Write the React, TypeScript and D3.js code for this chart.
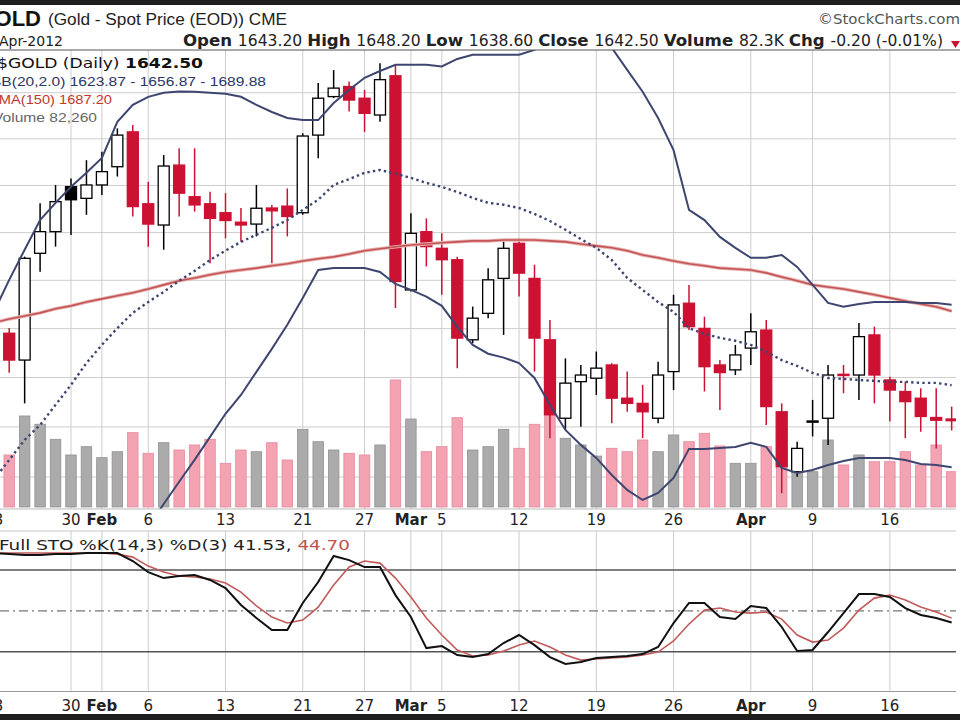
import React from 'react';
import * as d3 from 'd3';

// trading days shown (Jan 23 is just off the left edge)
const dates = [
  '2012-01-23', '2012-01-24', '2012-01-25', '2012-01-26', '2012-01-27', '2012-01-30', '2012-01-31',
  '2012-02-01', '2012-02-02', '2012-02-03', '2012-02-06', '2012-02-07', '2012-02-08', '2012-02-09',
  '2012-02-10', '2012-02-13', '2012-02-14', '2012-02-15', '2012-02-16', '2012-02-17', '2012-02-21',
  '2012-02-22', '2012-02-23', '2012-02-24', '2012-02-27', '2012-02-28', '2012-02-29', '2012-03-01',
  '2012-03-02', '2012-03-05', '2012-03-06', '2012-03-07', '2012-03-08', '2012-03-09', '2012-03-12',
  '2012-03-13', '2012-03-14', '2012-03-15', '2012-03-16', '2012-03-19', '2012-03-20', '2012-03-21',
  '2012-03-22', '2012-03-23', '2012-03-26', '2012-03-27', '2012-03-28', '2012-03-29', '2012-03-30',
  '2012-04-02', '2012-04-03', '2012-04-04', '2012-04-05', '2012-04-09', '2012-04-10', '2012-04-11',
  '2012-04-12', '2012-04-13', '2012-04-16', '2012-04-17', '2012-04-18', '2012-04-19', '2012-04-20',
];
// candles start on Jan 24
const candleDates = dates.slice(1);
const prevCloseSeed = 1672.0;

const candleOpen = [
  1678.1, 1667.1, 1711.3, 1720.4, 1739.5, 1734.5, 1740.2, 1748.0, 1763.0, 1732.2,
  1723.2, 1748.7, 1735.2, 1732.2, 1728.4, 1724.4, 1723.6, 1730.4, 1731.2, 1728.4,
  1761.6, 1778.3, 1782.7, 1777.6, 1770.3, 1787.4, 1696.0, 1720.4, 1713.4, 1708.6,
  1675.4, 1686.3, 1700.8, 1715.5, 1700.8, 1675.4, 1643.5, 1658.3, 1659.7, 1665.1,
  1651.6, 1649.5, 1643.5, 1662.4, 1690.5, 1680.1, 1665.1, 1663.1, 1672.0, 1679.4,
  1646.1, 1622.1, 1641.9, 1643.5, 1661.3, 1661.0, 1677.4, 1659.0, 1654.3, 1651.6,
  1643.8, 1643.2,
];
const candleHigh = [
  1680.3, 1709.9, 1732.4, 1740.2, 1743.0, 1750.8, 1754.4, 1764.5, 1766.0, 1741.6,
  1753.0, 1755.9, 1755.9, 1737.3, 1736.7, 1730.4, 1740.2, 1731.7, 1738.7, 1762.4,
  1784.2, 1789.9, 1784.9, 1781.2, 1792.9, 1792.2, 1728.2, 1726.0, 1719.7, 1709.9,
  1689.1, 1705.0, 1716.2, 1717.6, 1706.5, 1683.6, 1667.8, 1665.1, 1670.6, 1665.8,
  1662.4, 1657.0, 1666.4, 1694.0, 1698.1, 1684.9, 1667.1, 1673.3, 1686.3, 1683.6,
  1649.5, 1634.1, 1650.9, 1665.1, 1665.1, 1682.3, 1680.8, 1660.3, 1658.3, 1655.6,
  1655.6, 1648.2,
];
const candleLow = [
  1661.9, 1649.5, 1703.6, 1714.1, 1719.0, 1727.5, 1735.9, 1743.8, 1726.8, 1714.1,
  1712.8, 1726.8, 1728.9, 1707.1, 1717.6, 1716.1, 1718.4, 1707.1, 1718.4, 1727.5,
  1751.6, 1777.6, 1771.8, 1763.0, 1767.4, 1688.5, 1695.3, 1705.8, 1694.0, 1663.8,
  1674.0, 1684.3, 1677.4, 1693.3, 1662.4, 1635.5, 1638.8, 1640.1, 1652.9, 1641.5,
  1646.1, 1635.5, 1641.5, 1654.9, 1679.4, 1654.3, 1646.8, 1661.0, 1665.1, 1640.8,
  1613.6, 1620.1, 1636.2, 1632.8, 1653.6, 1650.9, 1649.5, 1642.2, 1635.5, 1638.1,
  1631.4, 1638.6,
];
const candleClose = [
  1667.1, 1709.2, 1720.4, 1733.1, 1733.9, 1740.2, 1745.9, 1761.6, 1731.0, 1723.6,
  1748.3, 1736.7, 1731.7, 1726.0, 1725.1, 1723.2, 1730.3, 1729.2, 1726.8, 1761.2,
  1777.6, 1782.0, 1776.8, 1771.0, 1785.7, 1699.5, 1719.7, 1714.1, 1708.6, 1676.1,
  1684.3, 1700.2, 1713.4, 1703.0, 1676.1, 1644.9, 1657.7, 1661.0, 1663.8, 1651.6,
  1649.5, 1646.1, 1661.0, 1689.8, 1680.8, 1664.4, 1662.0, 1669.2, 1678.7, 1648.2,
  1624.1, 1631.4, 1642.4, 1661.0, 1660.8, 1676.7, 1661.0, 1654.9, 1650.2, 1644.2,
  1642.7, 1642.5,
];
const volume = [
  121200, 212000, 192700, 157700, 121200, 140500, 114900, 128800, 173100, 125100,
  149800, 132800, 144500, 157700, 101800, 132800, 128800, 149800, 109500, 181000,
  152100, 132800, 125100, 121200, 144500, 295900, 205000, 128800, 140500, 208100,
  132800, 140500, 181000, 136800, 192700, 214400, 160100, 144500, 118800, 136800,
  128800, 156100, 128800, 167800, 152100, 171700, 142100, 101800, 101800, 140500,
  137500, 105500, 82200, 156100, 97900, 121200, 105500, 105500, 128800, 97900,
  144500, 82260,
];

// overlays, one value per entry of dates
const bbUpper = [
  1686.8, 1700.2, 1712.8, 1725.3, 1732.6, 1739.4, 1745.4, 1751.8, 1767.3, 1774.7,
  1778.2, 1780.0, 1780.5, 1780.4, 1780.0, 1779.5, 1778.2, 1774.7, 1771.6, 1769.0,
  1768.1, 1768.1, 1775.5, 1781.2, 1786.5, 1789.5, 1792.2, 1792.2, 1792.2, 1791.5,
  1794.8, 1796.6, 1796.6, 1796.6, 1796.6, 1798.8, 1803.1, 1806.7, 1807.6, 1805.4,
  1799.7, 1790.0, 1780.4, 1769.0, 1755.1, 1729.6, 1725.3, 1718.2, 1713.6, 1709.4,
  1709.4, 1710.6, 1705.6, 1698.1, 1690.6, 1689.0, 1690.2, 1691.0, 1691.0, 1691.0,
  1690.6, 1690.6, 1689.88,
];
const bbMiddle = [
  1618.9, 1626.8, 1634.8, 1640.8, 1648.9, 1657.0, 1665.9, 1673.3, 1680.2, 1686.5,
  1691.0, 1695.2, 1699.8, 1703.9, 1708.5, 1712.4, 1716.1, 1719.1, 1722.0, 1725.3,
  1729.6, 1733.9, 1740.2, 1742.7, 1745.4, 1746.6, 1745.0, 1743.2, 1741.1, 1739.4,
  1737.2, 1734.7, 1732.6, 1731.8, 1730.4, 1727.9, 1724.9, 1721.2, 1717.3, 1713.6,
  1708.5, 1701.0, 1696.0, 1691.0, 1686.9, 1680.2, 1677.8, 1676.2, 1675.0, 1673.3,
  1670.5, 1667.1, 1664.7, 1661.9, 1659.8, 1659.4, 1659.0, 1658.6, 1658.2, 1658.2,
  1657.8, 1657.8, 1656.87,
];
const bbLower = [
  1556.5, 1558.5, 1560.4, 1562.3, 1566.2, 1572.0, 1575.8, 1581.6, 1585.5, 1592.1,
  1600.4, 1609.3, 1618.1, 1626.8, 1636.0, 1645.3, 1652.9, 1662.3, 1671.7, 1681.6,
  1692.7, 1704.3, 1705.1, 1705.1, 1705.1, 1703.5, 1698.5, 1696.0, 1693.2, 1689.4,
  1680.7, 1673.3, 1669.7, 1668.1, 1665.9, 1659.8, 1648.9, 1638.8, 1632.8, 1627.6,
  1620.8, 1614.9, 1610.9, 1613.7, 1619.6, 1631.2, 1631.2, 1631.6, 1632.0, 1633.6,
  1632.0, 1623.6, 1621.6, 1622.8, 1624.8, 1626.4, 1627.6, 1627.6, 1627.6, 1626.8,
  1625.2, 1624.8, 1623.87,
];
const sma150 = [
  1682.4, 1684.0, 1685.2, 1686.5, 1688.2, 1689.4, 1691.0, 1692.3, 1693.6, 1694.8,
  1696.4, 1698.1, 1699.8, 1701.0, 1702.3, 1703.5, 1704.3, 1705.1, 1706.1, 1706.9,
  1708.1, 1709.0, 1709.8, 1711.0, 1712.4, 1713.2, 1714.0, 1714.8, 1715.2, 1715.7,
  1716.1, 1716.5, 1716.5, 1716.9, 1716.9, 1716.9, 1716.5, 1716.1, 1715.2, 1714.4,
  1713.6, 1712.4, 1710.6, 1709.4, 1708.1, 1706.9, 1706.1, 1705.1, 1704.7, 1704.3,
  1703.1, 1701.4, 1699.8, 1698.1, 1697.2, 1696.4, 1695.2, 1694.0, 1692.7, 1691.4,
  1690.2, 1689.0, 1687.2,
];
const stoK = [
  92.5, 91.7, 91.0, 91.0, 91.7, 91.7, 92.5, 92.5, 92.5, 86.6,
  78.5, 74.1, 75.6, 76.3, 72.7, 66.8, 54.3, 44.8, 36.0, 36.0,
  55.8, 71.2, 90.3, 87.3, 82.2, 82.2, 61.6, 45.5, 22.7, 24.2,
  17.6, 16.1, 18.3, 26.4, 32.3, 24.9, 16.1, 11.0, 12.5, 15.4,
  16.1, 16.9, 18.3, 23.5, 41.1, 55.8, 55.8, 45.5, 44.0, 53.6,
  52.1, 38.2, 20.5, 21.3, 34.5, 48.4, 62.4, 62.4, 60.2, 52.1,
  47.0, 44.8, 41.53,
];
const stoD = [
  92.5, 92.5, 92.5, 92.5, 92.5, 92.5, 92.5, 92.5, 91.7, 89.5,
  82.9, 78.5, 75.6, 74.9, 73.4, 70.5, 63.8, 53.6, 45.5, 41.1,
  43.3, 52.8, 69.0, 82.2, 86.6, 85.1, 74.1, 60.2, 44.8, 32.3,
  21.3, 16.9, 17.6, 20.5, 24.9, 27.9, 23.5, 17.6, 13.9, 14.7,
  15.4, 16.1, 17.6, 19.8, 27.9, 40.4, 50.6, 52.1, 49.2, 48.4,
  49.2, 44.0, 32.3, 27.1, 28.6, 37.4, 50.6, 59.4, 61.6, 58.0,
  52.8, 49.2, 44.70,
];

const priceGrid = [1620, 1640, 1660, 1680, 1700, 1720, 1740, 1760, 1780];
const tickDates = ['2012-01-23', '2012-01-30', '2012-02-01', '2012-02-06', '2012-02-13', '2012-02-21',
  '2012-02-27', '2012-03-01', '2012-03-05', '2012-03-12', '2012-03-19', '2012-03-26', '2012-04-02',
  '2012-04-09', '2012-04-16'];
const tickLabels = ['23', '30', 'Feb', '6', '13', '21', '27', 'Mar', '5', '12', '19', '26', 'Apr', '9', '16'];
const monthLabels = ['Feb', 'Mar', 'Apr'];
const stoLevels = [80, 20];

const RED = '#cc1133';
const BAND = '#3e4670';
const SANS = 'DejaVu Sans, Verdana, sans-serif';
const ARIAL = 'Liberation Sans, Arial, sans-serif';

export default function App() {
  const x = d3.scalePoint<string>().domain(dates).range([-6.25, 951.65]);
  const y = d3.scaleLog().domain([1620, 1780]).range([477, 92.7]);
  const yVol = d3.scaleLinear().domain([0, 300000]).range([507, 378.2]);
  const ySto = d3.scaleLinear().domain([0, 100]).range([679, 542.8]);

  const main = {top: 50, bottom: 509, right: 956};
  const low = {top: 531, bottom: 691.5};

  const priceLine = (vals: number[]) =>
    d3.line<number>().x((_, i) => x(dates[i]) as number).y((v) => y(v))(vals) as string;
  const stoLine = (vals: number[]) =>
    d3.line<number>().x((_, i) => x(dates[i]) as number).y((v) => ySto(v))(vals) as string;

  const down = candleClose.map((c, k) => c < (k === 0 ? prevCloseSeed : candleClose[k - 1]));

  return (
    <svg width={960} height={720} style={{position: 'fixed', left: 0, top: 0, background: '#fff'}}>
      <defs>
        <clipPath id="mainClip">
          <rect x={0} y={main.top} width={main.right} height={main.bottom - main.top} />
        </clipPath>
        <clipPath id="lowClip">
          <rect x={0} y={low.top} width={main.right} height={low.bottom - low.top} />
        </clipPath>
      </defs>
      <rect x={0} y={0} width={960} height={720} fill="#fff" />

      {/* grid */}
      <g stroke="#cdcdcd" strokeWidth={1}>
        {priceGrid.map((p) => (
          <line key={p} x1={0} x2={main.right} y1={y(p)} y2={y(p)} />
        ))}
        {tickDates.map((d) => (
          <g key={d}>
            <line x1={x(d)} x2={x(d)} y1={main.top} y2={main.bottom} />
            <line x1={x(d)} x2={x(d)} y1={low.top} y2={low.bottom} />
          </g>
        ))}
      </g>

      {/* volume */}
      <g clipPath="url(#mainClip)">
        {candleDates.map((d, k) => (
          <rect key={d} x={(x(d) as number) - 5.25} width={10.5} y={yVol(volume[k])}
            height={507 - yVol(volume[k])}
            fill={down[k] ? '#f4a3b3' : '#ababab'} stroke={down[k] ? '#e6899b' : '#929292'}
            strokeWidth={0.8} />
        ))}
      </g>

      {/* candles */}
      <g clipPath="url(#mainClip)">
        {candleDates.map((d, k) => {
          const o = candleOpen[k];
          const c = candleClose[k];
          const cx = x(d) as number;
          const color = down[k] ? RED : '#000';
          const filled = c < o;
          const top = y(Math.max(o, c));
          const bot = y(Math.min(o, c));
          return (
            <g key={d}>
              <line x1={cx} x2={cx} y1={y(candleHigh[k])} y2={y(candleLow[k])}
                stroke={color} strokeWidth={1.5} />
              <rect x={cx - 5.5} width={11} y={top} height={Math.max(1.2, bot - top)}
                fill={filled ? color : '#fff'} stroke={color} strokeWidth={1.3} />
            </g>
          );
        })}
      </g>

      {/* overlays */}
      <g clipPath="url(#mainClip)" fill="none">
        <path d={priceLine(sma150)} stroke="#eab0b0" strokeWidth={3.5} />
        <path d={priceLine(sma150)} stroke="#c25555" strokeWidth={1.6} />
        <path d={priceLine(bbUpper)} stroke={BAND} strokeWidth={2} />
        <path d={priceLine(bbLower)} stroke={BAND} strokeWidth={2} />
        <path d={priceLine(bbMiddle)} stroke={BAND} strokeWidth={2.4} strokeDasharray="2.4,3.2" />
      </g>

      {/* panel borders */}
      <line x1={0} x2={960} y1={main.top} y2={main.top} stroke="#555" strokeWidth={1} />
      <line x1={0} x2={main.right} y1={main.bottom} y2={main.bottom} stroke="#bbb" strokeWidth={1} />
      <line x1={0} x2={main.right} y1={low.top} y2={low.top} stroke="#c8c8c8" strokeWidth={1} />
      <line x1={0} x2={main.right} y1={low.bottom} y2={low.bottom} stroke="#999" strokeWidth={1} />

      {/* stochastics */}
      <g clipPath="url(#lowClip)" fill="none">
        {stoLevels.map((v) => (
          <line key={v} x1={0} x2={main.right} y1={ySto(v)} y2={ySto(v)} stroke="#555" strokeWidth={1.5} />
        ))}
        <line x1={0} x2={main.right} y1={ySto(50)} y2={ySto(50)} stroke="#777" strokeWidth={1.3}
          strokeDasharray="9,4,2,4" />
        <path d={stoLine(stoD)} stroke="#c25a5a" strokeWidth={1.6} />
        <path d={stoLine(stoK)} stroke="#111" strokeWidth={2} />
      </g>

      {/* date labels */}
      {[525, 711].map((ty) => (
        <g key={ty} fontFamily={SANS} fontSize={15} fill="#222" textAnchor="middle">
          {tickDates.map((d, k) => (
            <text key={d} x={x(d)} y={ty}
              fontWeight={monthLabels.includes(tickLabels[k]) ? 'bold' : 'normal'}>
              {tickLabels[k]}
            </text>
          ))}
        </g>
      ))}

      {/* header */}
      <text x={41} y={26} textAnchor="end" fontFamily={ARIAL} fontWeight="bold" fontSize={22} fill="#111">$GOLD</text>
      <text x={48} y={25} fontFamily={ARIAL} fontSize={16} fill="#222" textLength={239}
        lengthAdjust="spacingAndGlyphs">(Gold - Spot Price (EOD)) CME</text>
      <text x={818} y={24} fontFamily={SANS} fontSize={14} fill="#555" textLength={142}
        lengthAdjust="spacingAndGlyphs">©StockCharts.com</text>
      <text x={63} y={46} textAnchor="end" fontFamily={SANS} fontSize={14} fill="#222">20-Apr-2012</text>
      <text x={183} y={46} fontFamily={SANS} fontSize={15} fill="#222" textLength={760}
        lengthAdjust="spacingAndGlyphs">
        <tspan fontWeight="bold" fontSize={16}>Open </tspan>1643.20{' '}
        <tspan fontWeight="bold" fontSize={16}>High </tspan>1648.20{' '}
        <tspan fontWeight="bold" fontSize={16}>Low </tspan>1638.60{' '}
        <tspan fontWeight="bold" fontSize={16}>Close </tspan>1642.50{' '}
        <tspan fontWeight="bold" fontSize={16}>Volume </tspan>82.3K{' '}
        <tspan fontWeight="bold" fontSize={16}>Chg </tspan>-0.20 (-0.01%)
      </text>
      <path d="M951,41 L960,41 L955.5,48 Z" fill={RED} />

      {/* legends */}
      <text x={-3} y={68} fontFamily={SANS} fontSize={14} fill="#111" textLength={206}
        lengthAdjust="spacingAndGlyphs">$GOLD (Daily) <tspan fontWeight="bold">1642.50</tspan></text>
      <text x={-9} y={86} fontFamily={ARIAL} fontSize={13} fill="#2b3566" textLength={275}
        lengthAdjust="spacingAndGlyphs">BB(20,2.0) 1623.87 - 1656.87 - 1689.88</text>
      <text x={-11} y={104} fontFamily={ARIAL} fontSize={13} fill="#c0392b" textLength={123}
        lengthAdjust="spacingAndGlyphs">SMA(150) 1687.20</text>
      <text x={-7} y={122} fontFamily={ARIAL} fontSize={13} fill="#666" textLength={104}
        lengthAdjust="spacingAndGlyphs">Volume 82,260</text>
      <text x={-1} y={550} fontFamily={SANS} fontSize={14} fill="#222" textLength={351}
        lengthAdjust="spacingAndGlyphs">Full STO %K(14,3) %D(3) 41.53, <tspan fill="#c0504d">44.70</tspan></text>

      {/* frame bars */}
      <rect x={0} y={0} width={960} height={5} fill="#1e1e1e" />
      <rect x={0} y={714} width={960} height={6} fill="#1e1e1e" />
    </svg>
  );
}
